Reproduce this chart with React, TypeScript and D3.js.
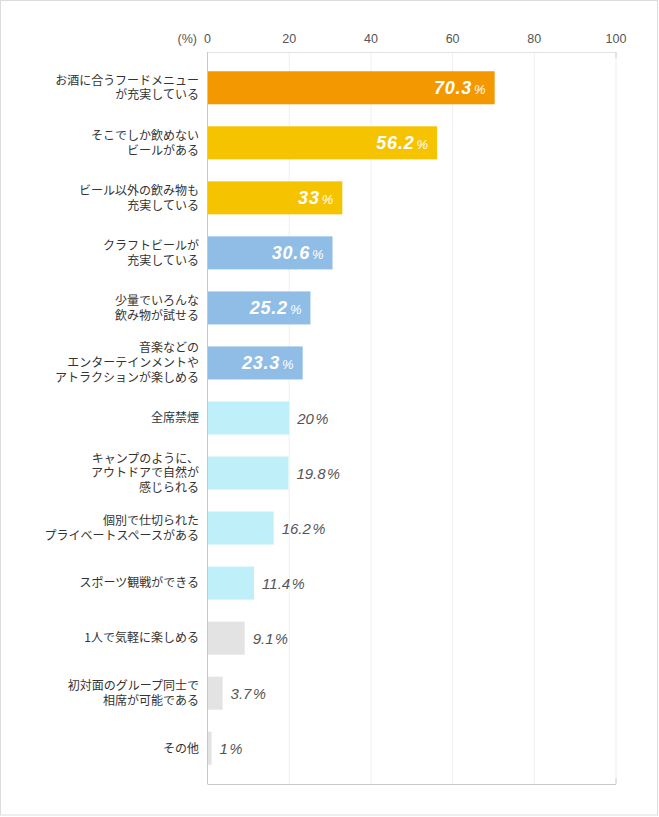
import React from "react";
import * as d3 from "d3";

const categories: string[] = [
  "お酒に合うフードメニュー\nが充実している",
  "そこでしか飲めない\nビールがある",
  "ビール以外の飲み物も\n充実している",
  "クラフトビールが\n充実している",
  "少量でいろんな\n飲み物が試せる",
  "音楽などの\nエンターテインメントや\nアトラクションが楽しめる",
  "全席禁煙",
  "キャンプのように、\nアウトドアで自然が\n感じられる",
  "個別で仕切られた\nプライベートスペースがある",
  "スポーツ観戦ができる",
  "1人で気軽に楽しめる",
  "初対面のグループ同士で\n相席が可能である",
  "その他",
];
const values: number[] = [70.3, 56.2, 33, 30.6, 25.2, 23.3, 20, 19.8, 16.2, 11.4, 9.1, 3.7, 1];
const groups: number[] = [0, 1, 1, 2, 2, 2, 3, 3, 3, 3, 4, 4, 4];
const palette: string[] = ["#f39800", "#f5c300", "#8fbde6", "#bff0f9", "#e3e3e3"];
const insideGroups: number[] = [0, 1, 2];
const ticks: number[] = [0, 20, 40, 60, 80, 100];
const unitLabel = "(%)";

const W = 659;
const H = 817;
const left = 207.5;
const right = 616;
const top = 52;
const bottom = 784;

export default function App() {
  const x = d3.scaleLinear().domain([0, 100]).range([left, right]);
  const ids = categories.map((_, i) => String(i));
  const y = d3
    .scaleBand<string>()
    .domain(ids)
    .range([top, bottom])
    .paddingInner(0.4)
    .paddingOuter(0.35);
  const jp = "'Noto Sans CJK JP', sans-serif";
  const num = "'Liberation Sans', Arial, sans-serif";
  const lineH = 14.8;

  return (
    <svg
      width={W}
      height={H}
      style={{ position: "absolute", left: 0, top: 0, background: "#fff" }}
    >
      <rect x={0.5} y={0.5} width={W - 2} height={H - 2.5} fill="#fff" stroke="#dcdcdc" />
      {/* gridlines */}
      {ticks.slice(1).map((t) => (
        <line key={"g" + t} x1={x(t)} x2={x(t)} y1={top} y2={bottom} stroke="#efefef" />
      ))}
      <line x1={left} x2={right} y1={top + 0.5} y2={top + 0.5} stroke="#e2e2e2" />
      <line x1={right} x2={right} y1={top} y2={top + 6} stroke="#d0d0d0" />
      <line x1={right} x2={right} y1={bottom - 6} y2={bottom} stroke="#d0d0d0" />
      {/* tick labels */}
      {ticks.map((t) => (
        <text
          key={"t" + t}
          x={x(t)}
          y={42.5}
          textAnchor="middle"
          fontFamily={num}
          fontSize={12.5}
          fill="#555"
        >
          {t}
        </text>
      ))}
      <text x={197} y={42.5} textAnchor="end" fontFamily={num} fontSize={12.5} fill="#555">
        {unitLabel}
      </text>
      {/* bars */}
      {values.map((v, i) => {
        const y0 = y(String(i))!;
        const bw = y.bandwidth();
        const cy = y0 + bw / 2;
        const g = groups[i];
        const inside = insideGroups.includes(g);
        const xe = x(v);
        return (
          <g key={"b" + i}>
            <rect x={left} y={y0} width={xe - left} height={bw} fill={palette[g]} />
            {inside ? (
              <text x={xe - 9} y={cy + 6.2} textAnchor="end" fill="#fff" fontFamily={num}>
                <tspan fontSize={18} fontWeight="bold" fontStyle="italic" letterSpacing={0.8}>
                  {String(v)}
                </tspan>
                <tspan fontSize={13} dx={2} fontStyle="italic">
                  %
                </tspan>
              </text>
            ) : (
              <text x={xe + 8} y={cy + 5.5} textAnchor="start" fill="#555" fontFamily={num} fontStyle="italic">
                <tspan fontSize={15}>{String(v)}</tspan>
                <tspan fontSize={14.5} dx={1.5}>
                  %
                </tspan>
              </text>
            )}
          </g>
        );
      })}
      {/* category labels */}
      {categories.map((c, i) => {
        const lines = c.split("\n");
        const cy = y(String(i))! + y.bandwidth() / 2;
        const start = cy - ((lines.length - 1) * lineH) / 2;
        return (
          <text
            key={"c" + i}
            textAnchor="end"
            fontFamily={jp}
            fontSize={12}
            fill="#333"
          >
            {lines.map((l, k) => (
              <tspan key={k} x={199} y={start + k * lineH + 4.3}>
                {l}
              </tspan>
            ))}
          </text>
        );
      })}
      {/* axes */}
      <line x1={left} x2={left} y1={top} y2={bottom} stroke="#c8c8c8" />
      <line x1={left} x2={right} y1={bottom + 0.5} y2={bottom + 0.5} stroke="#c8c8c8" />
    </svg>
  );
}
